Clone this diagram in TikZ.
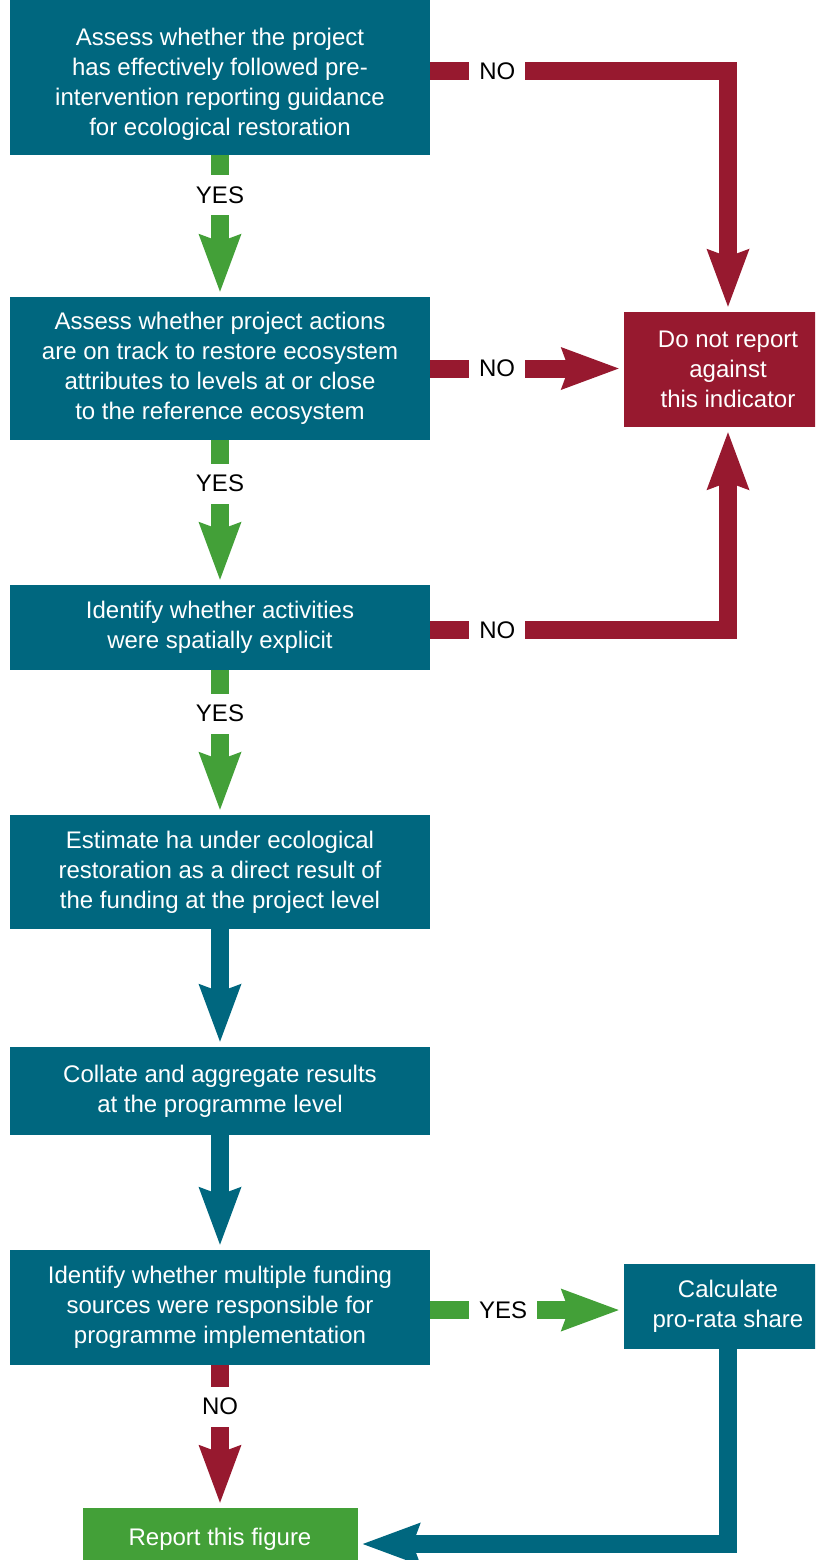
\documentclass[tikz,border=0pt]{standalone}
\usepackage{fontspec}
\setmainfont{Liberation Sans}
\usetikzlibrary{arrows.meta}
\definecolor{teal1}{HTML}{00677F}
\definecolor{red1}{HTML}{97192F}
\definecolor{green1}{HTML}{43A038}
\begin{document}
\begin{tikzpicture}[x=0.75pt,y=-0.75pt,
  box/.style={fill=teal1,text=white,inner sep=0pt,align=center,
    font=\fontsize{18}{22.4}\selectfont,minimum width=315pt},
  sidebox/.style={box,minimum width=156pt},
  conn/.style={line width=13.5pt,
    -{Stealth[length=43.5pt,width=32.25pt,inset=6pt,line width=0pt]},
    shorten >=3.75pt},
  lbl/.style={fill=white,text=black,font=\fontsize{18}{21}\selectfont,
    inner xsep=7.5pt,inner ysep=0pt,minimum height=30pt}]
\useasboundingbox (0,0) rectangle (815,1560);
\clip (0,0) rectangle (815,1560);

\node[box,minimum height=106.5pt] (b1) at (220,84)
  {Assess whether the project\\has effectively followed pre-\\intervention reporting guidance\\for ecological restoration};
\fill[teal1] (b1.north west) rectangle (430,-5);
\node[box,minimum height=107.25pt] (b2) at (220,368.5)
  {Assess whether project actions\\are on track to restore ecosystem\\attributes to levels at or close\\to the reference ecosystem};
\node[box,minimum height=63.75pt] (b3) at (220,627.5)
  {Identify whether activities\\were spatially explicit};
\node[box,minimum height=85.5pt] (b4) at (220,872)
  {Estimate ha under ecological\\restoration as a direct result of\\the funding at the project level};
\node[box,minimum height=66pt] (b5) at (220,1091)
  {Collate and aggregate results\\at the programme level};
\node[box,minimum height=86.25pt] (b6) at (220,1307.5)
  {Identify whether multiple funding\\sources were responsible for\\programme implementation};
\node[sidebox,fill=red1,minimum height=86.25pt] (dnr) at (728,369.5)
  {Do not report\\against\\this indicator};
\node[sidebox,minimum height=63.75pt] (calc) at (728,1306.5)
  {Calculate\\pro-rata share};
\node[box,fill=green1,minimum width=206.25pt,minimum height=54pt,text depth=11pt] (rep) at (220,1544)
  {Report this figure};

\draw[conn,green1] (b1.south) -- node[lbl,pos=0.28]{YES} (b2.north);
\draw[conn,green1] (b2.south) -- node[lbl,pos=0.30]{YES} (b3.north);
\draw[conn,green1] (b3.south) -- node[lbl,pos=0.30]{YES} (b4.north);
\draw[conn,teal1] (b4.south) -- (b5.north);
\draw[conn,teal1] (b5.south) -- (b6.north);
\draw[conn,red1] (b6.south) -- node[lbl,pos=0.29]{NO} (rep.north);

\draw[conn,red1] ([yshift=9.4pt]b1.east) -| node[lbl,pos=0.1125]{NO} (dnr.north);
\draw[conn,red1] (b2.east) -- node[lbl,pos=0.345]{NO} (b2.east -| dnr.west);
\draw[conn,red1] ([yshift=-1.9pt]b3.east) -| node[lbl,pos=0.1125]{NO} (dnr.south);
\draw[conn,green1] ([yshift=-1.9pt]b6.east) -- node[lbl,pos=0.376]{YES} ([yshift=-1.9pt]b6.east -| calc.west);
\draw[conn,teal1] (calc.south) |- (rep.east);
\end{tikzpicture}
\end{document}
